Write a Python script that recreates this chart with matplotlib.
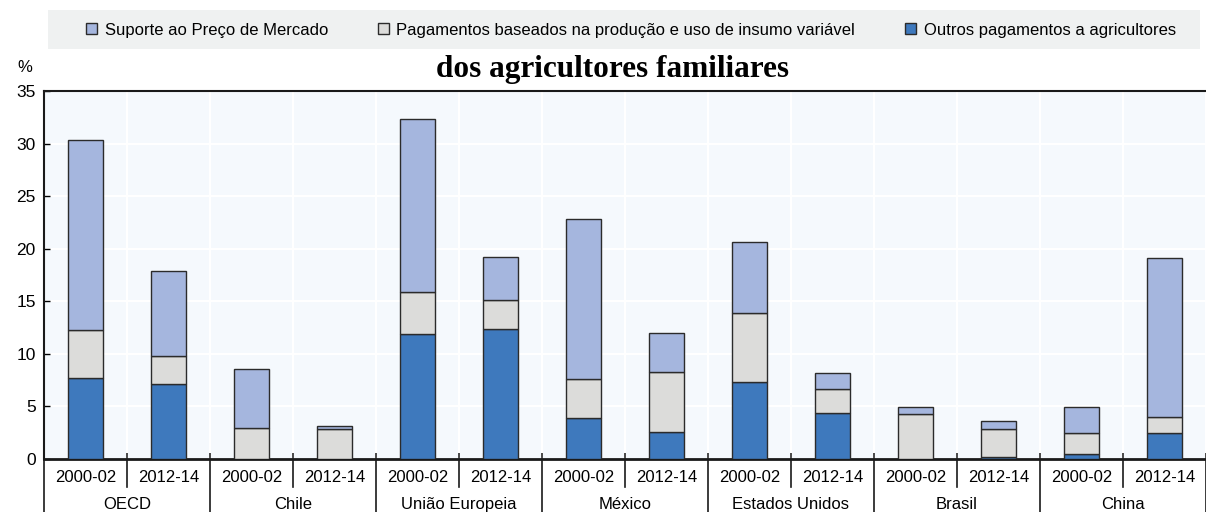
import matplotlib.pyplot as plt
from matplotlib.patches import Patch, Rectangle
from matplotlib.transforms import blended_transform_factory
import numpy as np

# -----------------------
# Data (% of gross farm receipts)
# -----------------------
countries = ["OECD", "Chile", "União Europeia", "México",
             "Estados Unidos", "Brasil", "China"]
periods = ["2000-02", "2012-14"]

outros = [7.7, 7.1, 0.0, 0.0, 11.9, 12.4, 3.9, 2.6, 7.3, 4.4, 0.0, 0.2, 0.5, 2.45]
insumo = [4.6, 2.7, 2.95, 2.85, 4.0, 2.7, 3.7, 5.7, 6.6, 2.3, 4.3, 2.65, 2.0, 1.52]
mercado = [18.05, 8.1, 5.6, 0.3, 16.45, 4.1, 15.2, 3.7, 6.7, 1.5, 0.65, 0.8, 2.45, 15.13]

series_names = ["Suporte ao Preço de Mercado",
                "Pagamentos baseados na produção e uso de insumo variável",
                "Outros pagamentos a agricultores"]

# -----------------------
# Style
# -----------------------
C_MERCADO = "#a5b6de"
C_INSUMO = "#dcdcda"
C_OUTROS = "#3e79bd"
EDGE = "#2b2b2b"
BG = "#f5f9fd"

plt.rcParams["font.family"] = ["Liberation Sans", "DejaVu Sans"]
plt.rcParams["font.size"] = 12

fig = plt.figure(figsize=(12.06, 5.12), dpi=100)
ax = fig.add_axes([44 / 1206, 1 - 459 / 512, 1 - 44 / 1206, 368 / 512])
ax.set_facecolor(BG)

x = np.arange(len(countries) * len(periods))
w = 0.41
outros = np.array(outros)
insumo = np.array(insumo)
mercado = np.array(mercado)

ax.bar(x, outros, w, color=C_OUTROS, edgecolor=EDGE, lw=1, zorder=3)
ax.bar(x, insumo, w, bottom=outros, color=C_INSUMO, edgecolor=EDGE, lw=1, zorder=3)
ax.bar(x, mercado, w, bottom=outros + insumo, color=C_MERCADO, edgecolor=EDGE, lw=1, zorder=3)

ax.set_xlim(-0.5, len(x) - 0.5)
ax.set_ylim(0, 35)
ax.set_yticks(np.arange(0, 36, 5))
ax.tick_params(axis="y", direction="in", length=4, width=1, pad=6, labelsize=12.5)

# year labels under each bar
ax.set_xticks(x)
ax.set_xticklabels(periods * len(countries), fontsize=12)
ax.tick_params(axis="x", which="major", length=0, pad=8)
bounds = np.arange(-0.5, len(x), 1.0)
ax.set_xticks(bounds[1:], minor=True)
ax.tick_params(axis="x", which="minor", direction="in", length=4, width=1.2, color=EDGE)

ax.grid(axis="y", color="white", lw=1.5, zorder=1)
ax.grid(axis="x", which="minor", color="white", lw=1.5, zorder=1)
ax.grid(axis="x", which="major", visible=False)
ax.set_axisbelow(True)

for s in ["left", "bottom", "top"]:
    ax.spines[s].set_color("#1a1a1a")
ax.spines["left"].set_linewidth(1.5)
ax.spines["bottom"].set_linewidth(2)
ax.spines["top"].set_linewidth(1.5)
ax.spines["right"].set_visible(False)

# separators and group labels below the axis
trans = blended_transform_factory(ax.transData, ax.transAxes)
for i, b in enumerate(bounds):
    y_end = -0.16 if i % 2 == 0 else -0.077
    ax.plot([b, b], [0, y_end], color="#1a1a1a", lw=1.2, transform=trans, clip_on=False)
for k, name in enumerate(countries):
    ax.text(2 * k + 0.5, -0.123, name, transform=trans, ha="center", va="center", fontsize=12)

# title and unit
fig.text(612 / 1206, 1 - 69 / 512, "dos agricultores familiares", ha="center", va="center",
         family="Liberation Serif", weight="bold", fontsize=22.5)
fig.text(25 / 1206, 1 - 67 / 512, "%", ha="center", va="center", fontsize=12)

# legend band
fig.patches.append(Rectangle((48 / 1206, 1 - 49 / 512), 1152 / 1206, 39 / 512,
                             transform=fig.transFigure, facecolor="#eff1f1",
                             edgecolor="none", zorder=0))
handles = [Patch(facecolor=c, edgecolor=EDGE, lw=1) for c in (C_MERCADO, C_INSUMO, C_OUTROS)]
fig.legend(handles, series_names, loc="center", bbox_to_anchor=(631 / 1206, 1 - 30 / 512),
           ncol=3, frameon=False, fontsize=12, handlelength=0.65, handleheight=0.65,
           handletextpad=0.45, columnspacing=3.0, borderpad=0)

fig.savefig("out.png", dpi=100)
